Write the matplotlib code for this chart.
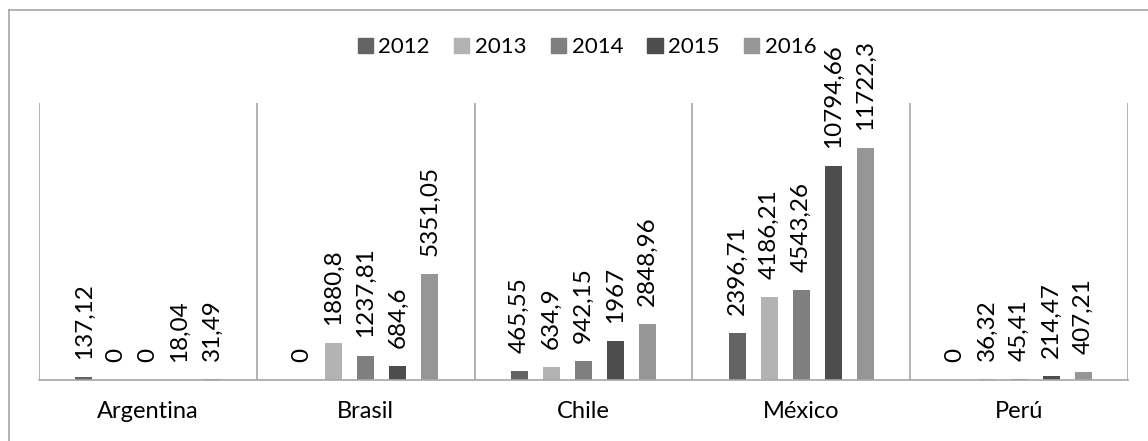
import numpy as np
import matplotlib.pyplot as plt
from matplotlib.lines import Line2D

paises = ['Argentina', 'Brasil', 'Chile', 'México', 'Perú']
anios = ['2012', '2013', '2014', '2015', '2016']

v2012 = [137.12, 0, 465.55, 2396.71, 0]
v2013 = [0, 1880.8, 634.9, 4186.21, 36.32]
v2014 = [0, 1237.81, 942.15, 4543.26, 45.41]
v2015 = [18.04, 684.6, 1967, 10794.66, 214.47]
v2016 = [31.49, 5351.05, 2848.96, 11722.3, 407.21]

series = [v2012, v2013, v2014, v2015, v2016]
colores = ['#636363', '#b3b3b3', '#7f7f7f', '#4d4d4d', '#969696']

plt.rcParams['font.family'] = ['Lato', 'DejaVu Sans']


def fmt(v):
    s = f'{v:.2f}'.rstrip('0').rstrip('.')
    return s.replace('.', ',')


fig = plt.figure(figsize=(11.48, 4.41), dpi=100)
ax = fig.add_axes([39 / 1148, 61 / 441, 1089 / 1148, 277 / 441])

x = np.arange(len(paises))
ancho = 17 / 218
paso = 32 / 218

for i, (vals, col) in enumerate(zip(series, colores)):
    pos = x + (i - 2) * paso
    ax.bar(pos, vals, width=ancho, color=col, zorder=2)
    for px, v in zip(pos, vals):
        ax.annotate(fmt(v), (px, v), xytext=(0, 13), textcoords='offset points',
                    rotation=90, ha='center', va='bottom', fontsize=17.5, color='black')

ax.set_xlim(-0.5, len(paises) - 0.5)
ax.set_ylim(0, 14000)
ax.set_yticks([])
ax.set_xticks(x)
ax.set_xticklabels(paises, fontsize=17)
ax.tick_params(axis='x', length=0, pad=15)

for b in np.arange(-0.5, len(paises), 1.0):
    ax.axvline(b, color='#a6a6a6', linewidth=1.2, zorder=1)
for s in ['top', 'left', 'right']:
    ax.spines[s].set_visible(False)
ax.spines['bottom'].set_color('#a6a6a6')
ax.spines['bottom'].set_linewidth(1.2)

# marco exterior (solo arriba e izquierda visibles)
fig.add_artist(Line2D([9 / 1148, 1], [1 - 10 / 441, 1 - 10 / 441], color='#a6a6a6', linewidth=1.2))
fig.add_artist(Line2D([9 / 1148, 9 / 1148], [0, 1 - 10 / 441], color='#a6a6a6', linewidth=1.2))

handles = [plt.Rectangle((0, 0), 1, 1, color=c) for c in colores]
fig.legend(handles, anios, loc='center', bbox_to_anchor=(587 / 1148, 1 - 47 / 441),
           ncol=5, frameon=False, fontsize=16, handlelength=0.68, handleheight=0.68,
           handletextpad=0.25, columnspacing=1.1, borderpad=0, borderaxespad=0)

fig.savefig('out.png', dpi=100)
